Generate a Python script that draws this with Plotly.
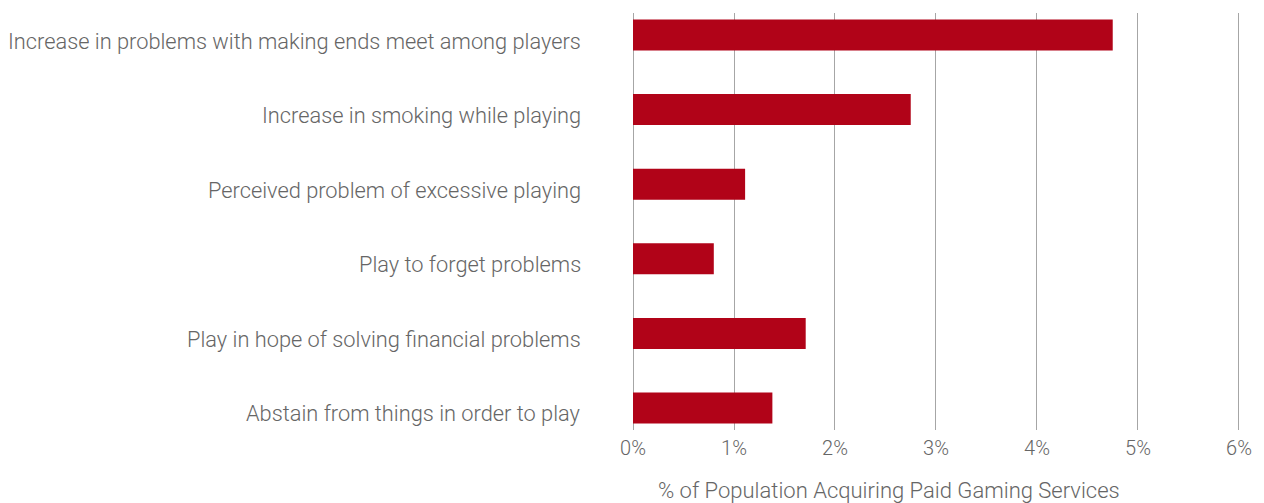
import plotly.graph_objects as go

categories = [
    "Increase in problems with making ends meet among players",
    "Increase in smoking while playing",
    "Perceived problem of excessive playing",
    "Play to forget problems",
    "Play in hope of solving financial problems",
    "Abstain from things in order to play",
]
values = [4.75, 2.75, 1.11, 0.80, 1.71, 1.38]
tick_vals = [0, 1, 2, 3, 4, 5, 6]
tick_text = ["0%", "1%", "2%", "3%", "4%", "5%", "6%"]
x_title = "% of Population Acquiring Paid Gaming Services"

font_family = "Roboto Light, Roboto, sans-serif"
text_color = "#666666"
grid_color = "#A6A6A6"
bar_color = "#B10318"

y_pos = list(range(len(categories)))

fig = go.Figure(
    go.Bar(
        x=values,
        y=y_pos,
        orientation="h",
        marker=dict(color=bar_color, line=dict(width=0)),
        width=0.415,
        hovertext=categories,
        hoverinfo="x+text",
    )
)

# category labels, placed left of the plot area and slightly below bar centres
annotations = [
    dict(
        text=label,
        x=0,
        xref="paper",
        y=yv,
        yref="y",
        xanchor="right",
        yanchor="middle",
        xshift=-50,
        yshift=-6,
        showarrow=False,
        font=dict(size=21.8, color=text_color, family=font_family, weight=300),
    )
    for label, yv in zip(categories, y_pos)
]

# x axis title
annotations.append(
    dict(
        text=x_title,
        x=0.421,
        xref="paper",
        y=0,
        yref="paper",
        xanchor="center",
        yanchor="middle",
        yshift=-60,
        showarrow=False,
        font=dict(size=22, color=text_color, family=font_family, weight=300),
    )
)

fig.update_layout(
    width=1264,
    height=503,
    margin=dict(l=633, r=18, t=13, b=73),
    paper_bgcolor="white",
    plot_bgcolor="white",
    showlegend=False,
    font=dict(family=font_family, color=text_color, weight=300),
    annotations=annotations,
    xaxis=dict(
        range=[0, 6.02],
        tickvals=tick_vals,
        ticktext=tick_text,
        showgrid=True,
        gridcolor=grid_color,
        gridwidth=1,
        zeroline=True,
        zerolinecolor=grid_color,
        zerolinewidth=1,
        showline=False,
        ticks="",
        ticklabelstandoff=4,
        tickfont=dict(size=20, color=text_color, family=font_family, weight=300),
        fixedrange=True,
    ),
    yaxis=dict(
        range=[5.295, -0.295],
        tickvals=y_pos,
        showticklabels=False,
        showgrid=False,
        zeroline=False,
        showline=False,
        fixedrange=True,
    ),
)

fig.write_html("out.html")
